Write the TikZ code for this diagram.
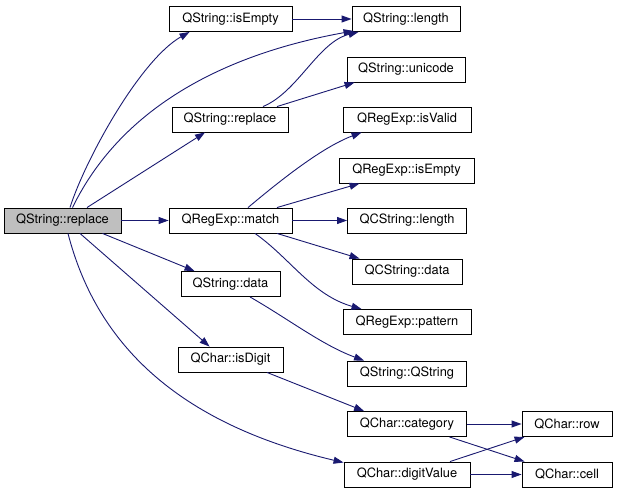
\documentclass[tikz,border=0pt]{standalone}
\usepackage{fontspec}
\setmainfont{TeX Gyre Heros}
\usetikzlibrary{arrows.meta,calc}
\definecolor{edgeblue}{HTML}{191970}
\definecolor{rootgray}{HTML}{BFBFBF}
\tikzset{
  fn/.style={draw=black, fill=white, line width=0.9bp, minimum height=25bp, inner sep=0pt,
    font=\fontsize{12.9}{15}\selectfont},
  rootfn/.style={fn, fill=rootgray},
  call/.style={draw=edgeblue, line width=0.9bp, -{Triangle[length=10bp,width=7bp]}, fill=none},
}
\begin{document}
\begin{tikzpicture}[x=1bp,y=-1bp]
\useasboundingbox (0,0) rectangle (617,493);
% rank 1
\node[rootfn, minimum width=117bp] (root) at (62.5,220.5) {QString::replace};
% rank 2
\node[fn, minimum width=123bp] (isEmpty) at (230.5,19) {QString::isEmpty};
\node[fn, minimum width=116bp] (replace2) at (230,119.5) {QString::replace};
\node[fn, minimum width=123bp] (match) at (230.5,220.5) {QRegExp::match};
\node[fn, minimum width=99bp] (sdata) at (230.5,284) {QString::data};
\node[fn, minimum width=105bp] (isDigit) at (230.5,359.5) {QChar::isDigit};
% rank 3
\node[fn, minimum width=108bp] (length) at (406,19) {QString::length};
\node[fn, minimum width=118bp] (unicode) at (406,69.5) {QString::unicode};
\node[fn, minimum width=128bp] (isValid) at (407,119.5) {QRegExp::isValid};
\node[fn, minimum width=135bp] (reIsEmpty) at (406.5,170.5) {QRegExp::isEmpty};
\node[fn, minimum width=119bp] (cslength) at (407,220.5) {QCString::length};
\node[fn, minimum width=110bp] (csdata) at (407,271.5) {QCString::data};
\node[fn, minimum width=128bp] (pattern) at (407,322) {QRegExp::pattern};
\node[fn, minimum width=119bp] (qstring) at (407,373.5) {QString::QString};
\node[fn, minimum width=119bp] (category) at (407,424) {QChar::category};
\node[fn, minimum width=126bp] (digitValue) at (407,474.5) {QChar::digitValue};
% rank 4
\node[fn, minimum width=90bp] (row) at (567,424) {QChar::row};
\node[fn, minimum width=90bp] (cell) at (567,474.5) {QChar::cell};

% edges
\draw[call] ($(root.north)+(7.5,0)$) .. controls (85,160) and (140,60) .. ($(isEmpty.south west)+(21,0)$);
\draw[call] ($(root.north)+(10,0)$) .. controls (120,110) and (220,55) .. ($(length.south west)+(2,-1)$);
\draw[call] (isEmpty.east) -- (length.west);
\draw[call] ($(replace2.north)+(33,0)$) .. controls (298,92) and (318,42) .. ($(length.south west)+(7,0)$);
\draw[call] ($(replace2.north)+(47,0)$) -- ($(unicode.south west)+(8,0)$);
\draw[call] ($(root.north)+(24.5,0)$) -- ($(replace2.south)+(-25,0)$);
\draw[call] (root.east) -- (match.west);
\draw[call] ($(match.north)+(17.5,0)$) .. controls (275,185) and (320,148) .. ($(isValid.south west)+(19,0)$);
\draw[call] ($(match.north)+(46.5,0)$) -- ($(reIsEmpty.south west)+(21,0)$);
\draw[call] (match.east) -- (cslength.west);
\draw[call] ($(match.south)+(46.5,0)$) -- ($(csdata.north west)+(8,0)$);
\draw[call] ($(match.south)+(24.5,0)$) .. controls (290,258) and (312,295) .. ($(pattern.north west)+(19,0)$);
\draw[call] ($(root.south)+(40,0)$) -- ($(sdata.north west)+(14,0)$);
\draw[call] ($(sdata.south)+(19.5,0)$) .. controls (290,320) and (322,345) .. ($(qstring.north west)+(17,0)$);
\draw[call] ($(root.south)+(17.5,0)$) -- ($(isDigit.north west)+(32,0)$);
\draw[call] ($(isDigit.south)+(36.5,0)$) -- ($(category.north west)+(17,0)$);
\draw[call] ($(root.south)+(5.5,0)$) .. controls (98,350) and (185,425) .. ($(digitValue.north west)+(0,1)$);
\draw[call] (category.east) -- (row.west);
\draw[call] ($(category.south)+(42.5,0)$) -- ($(cell.north west)+(3,0)$);
\draw[call] ($(digitValue.north)+(43,0)$) -- ($(row.south west)+(3,0)$);
\draw[call] (digitValue.east) -- (cell.west);
\end{tikzpicture}
\end{document}
